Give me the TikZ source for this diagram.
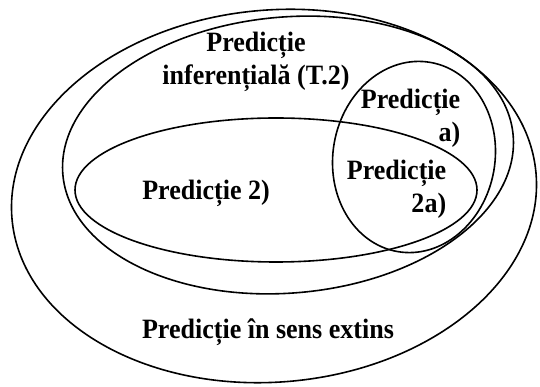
\documentclass[tikz,border=0pt]{standalone}
\usepackage{fontspec}
\setmainfont{Liberation Serif}[FakeStretch=0.93]
\usepackage{tikz}
\usetikzlibrary{positioning}

\begin{document}
\begin{tikzpicture}[x=1pt, y=1pt, line width=1.6pt,
    setlabel/.style={font=\fontsize{28}{33}\selectfont\bfseries, inner sep=0pt}]
  \useasboundingbox (0,0) rectangle (540,387);

  % Predictie in sens extins (outer set)
  \draw[rotate around={5:(274,191)}] (274,191) ellipse [x radius=263, y radius=186];

  % Predictie inferentiala (T.2)
  \draw[rotate around={5:(288,232)}] (288,232) ellipse [x radius=226, y radius=138];

  % Predictie 2)
  \draw (276,197) ellipse [x radius=201, y radius=72];

  % Predictie a)
  \draw[rotate around={-10:(414,230)}] (414,230) ellipse [x radius=81, y radius=96];

  % labels
  \node[setlabel, align=center] (infer) at (256,325) {Predicție\\inferențială (T.2)};
  \node[setlabel, align=right, anchor=east] (preda) at (461,269) {Predicție\\a)};
  \node[setlabel, align=right, anchor=east] (pred2a) at (447,198) {Predicție\\2a)};
  \node[setlabel] (pred2) at (206,194) {Predicție 2)};
  \node[setlabel] (extins) at (268,55) {Predicție în sens extins};
\end{tikzpicture}
\end{document}
